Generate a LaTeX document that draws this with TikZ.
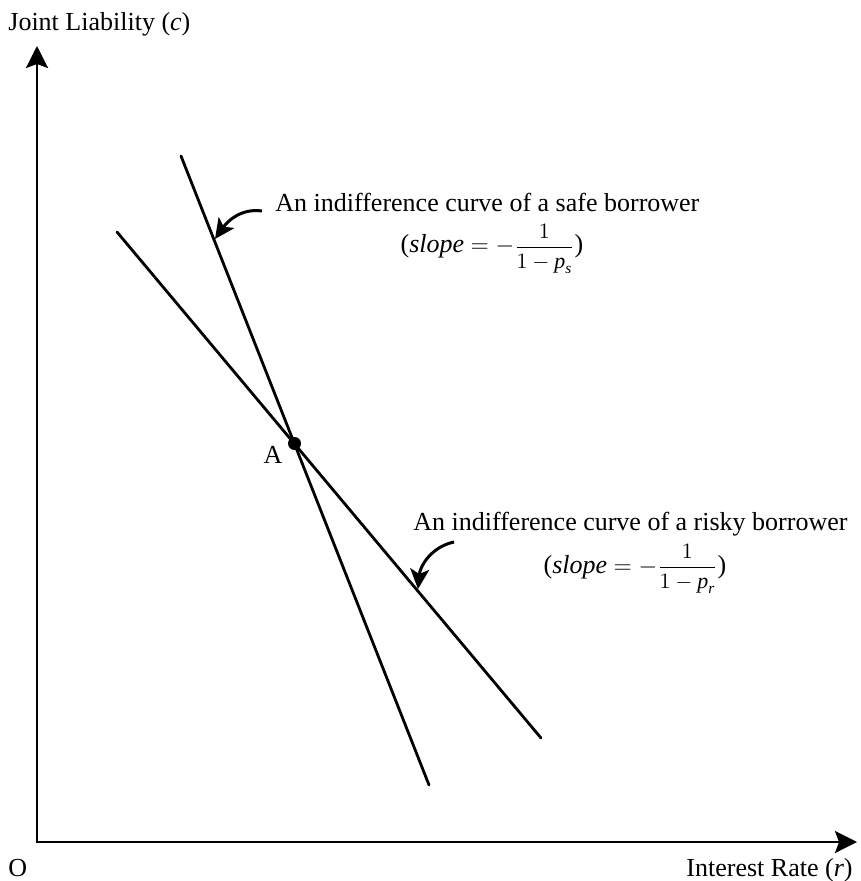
\documentclass[tikz,border=0pt]{standalone}
\usepackage{amsmath}
\usepackage{fontspec}
\setmainfont{Liberation Serif}
\usetikzlibrary{arrows.meta}
\newcommand{\slopefrac}[1]{\mbox{\fontsize{11}{11}\selectfont$\displaystyle\frac{1}{1-\textit{p}_{\textit{#1}}}$}}
\tikzset{
  lbl/.style={inner sep=0pt, font=\fontsize{13}{16}\selectfont},
  axis/.style={line width=1.4pt, -{Stealth[length=11pt, width=11pt, inset=2pt]}},
  curveline/.style={line width=1.4pt, line cap=round},
  pointer/.style={line width=1.5pt, -{Stealth[length=10pt, width=9.5pt, inset=2.5pt]}},
}
\begin{document}
\begin{tikzpicture}[x=0.5pt, y=-0.5pt]
\useasboundingbox (0,0) rectangle (860,881);
% axes
\coordinate (O) at (37,842);
\coordinate (ytip) at (37,46);
\coordinate (xtip) at (857,842);
\draw[axis] ([yshift=-0.7pt]O) -- (ytip);
\draw[axis] ([xshift=-0.7pt]O) -- (xtip);
\node[lbl, anchor=base west] (ylab) at (8,31) {Joint Liability (\textit{c})};
\node[lbl, anchor=base west] (olab) at (8,876) {O};
\node[lbl, anchor=base east] (xlab) at (853,876) {Interest Rate (\textit{r})};
% indifference curves
\coordinate (s1) at (181,156);
\coordinate (s2) at (429,785);
\coordinate (r1) at (117,232);
\coordinate (r2) at (541,738);
\draw[curveline] (s1) -- (s2);
\draw[curveline] (r1) -- (r2);
% point A
\fill (294.5,443.5) circle (6.5);
\node[lbl, anchor=base] (Alab) at (273,463) {A};
% safe label
\node[lbl, anchor=base west] (safe) at (275,212) {An indifference curve of a safe borrower};
\node[lbl, anchor=base] (safef) at (492,253) {(\textit{slope} $=$ $-$\slopefrac{s})};
\coordinate (sa) at (262,211);
\coordinate (sb) at (215,239);
\draw[pointer] (sa) to[out=172, in=55] (sb);
% risky label
\node[lbl, anchor=base west] (risky) at (413,530) {An indifference curve of a risky borrower};
\node[lbl, anchor=base] (riskyf) at (635,573) {(\textit{slope} $=$ $-$\slopefrac{r})};
\coordinate (ra) at (454,542);
\coordinate (rb) at (418,589);
\draw[pointer] (ra) to[out=192, in=85] (rb);
\end{tikzpicture}
\end{document}
